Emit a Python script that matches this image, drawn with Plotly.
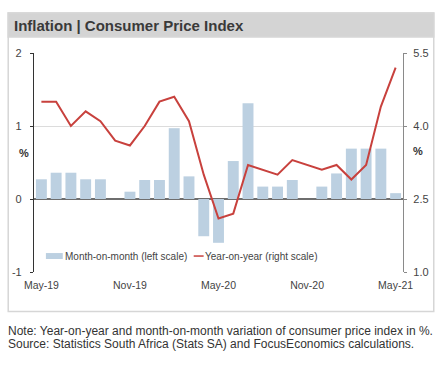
import plotly.graph_objects as go

months = ["May-19","Jun-19","Jul-19","Aug-19","Sep-19","Oct-19","Nov-19","Dec-19",
          "Jan-20","Feb-20","Mar-20","Apr-20","May-20","Jun-20","Jul-20","Aug-20",
          "Sep-20","Oct-20","Nov-20","Dec-20","Jan-21","Feb-21","Mar-21","Apr-21","May-21"]
mom = [0.27,0.36,0.36,0.27,0.27,0.0,0.1,0.26,0.26,0.97,0.31,-0.51,-0.6,0.52,1.31,
       0.17,0.17,0.26,0.0,0.17,0.35,0.69,0.69,0.69,0.08]
yoy = [4.5,4.5,4.0,4.3,4.1,3.7,3.6,4.0,4.5,4.6,4.1,3.0,2.1,2.2,3.2,3.1,3.0,3.3,3.2,
       3.1,3.2,2.9,3.2,4.4,5.2]
tick_months = ["May-19","Nov-19","May-20","Nov-20","May-21"]
left_ticks = [-1,0,1,2]
right_ticks = [1.0,2.5,4.0,5.5]

W, H = 448, 371
L, R, T, B = 31, 403, 52.5, 272
def px(x): return (x - L) / (R - L)
def py(y): return (B - y) / (B - T)

font = "Liberation Sans, Arial, sans-serif"
fig = go.Figure()
fig.add_trace(go.Bar(x=months, y=mom, marker_color="#bcd0e1", marker_line_width=0,
                     name="Month-on-month (left scale)", showlegend=False))
fig.add_trace(go.Scatter(x=months, y=yoy, yaxis="y2", mode="lines",
                         line=dict(color="#c8413d", width=2),
                         name="Year-on-year (right scale)", showlegend=False))

shapes = [
    dict(type="rect", xref="paper", yref="paper", x0=px(5), x1=px(434), y0=py(311.5), y1=py(12.5),
         line=dict(color="#d6d6d6", width=1.5), fillcolor="rgba(0,0,0,0)", layer="below"),
    dict(type="rect", xref="paper", yref="paper", x0=px(5), x1=px(434), y0=py(36.5), y1=py(12.5),
         line=dict(color="#d6d6d6", width=1.5), fillcolor="#d4d4d4", layer="below"),
    # legend swatches
    dict(type="rect", xref="paper", yref="paper", x0=px(43), x1=px(60), y0=py(259), y1=py(253),
         line=dict(width=0), fillcolor="#bcd0e1"),
    dict(type="line", xref="paper", yref="paper", x0=px(192), x1=px(202), y0=py(256), y1=py(256),
         line=dict(color="#c8413d", width=1.5)),
]
annotations = [
    dict(text="<b>Inflation | Consumer Price Index</b>", xref="paper", yref="paper",
         x=px(9), y=py(24.5), xanchor="left", yanchor="middle", showarrow=False,
         font=dict(size=15, color="#3a3a3a", family=font)),
    dict(text="Month-on-month (left scale)", xref="paper", yref="paper", x=px(60), y=py(256),
         xanchor="left", yanchor="middle", showarrow=False, font=dict(size=10, color="#444", family=font)),
    dict(text="Year-on-year (right scale)", xref="paper", yref="paper", x=px(201), y=py(256),
         xanchor="left", yanchor="middle", showarrow=False, font=dict(size=10, color="#444", family=font)),
    dict(text="<b>%</b>", xref="paper", yref="paper", x=px(21), y=py(153),
         xanchor="center", yanchor="middle", showarrow=False, font=dict(size=11, color="#333", family=font)),
    dict(text="<b>%</b>", xref="paper", yref="paper", x=px(418), y=py(151),
         xanchor="center", yanchor="middle", showarrow=False, font=dict(size=11, color="#333", family=font)),
    dict(text="Note: Year-on-year and month-on-month variation of consumer price index in %.",
         xref="paper", yref="paper", x=px(3), y=py(331), xanchor="left", yanchor="middle",
         showarrow=False, font=dict(size=12, color="#333", family=font)),
    dict(text="Source: Statistics South Africa (Stats SA) and FocusEconomics calculations.",
         xref="paper", yref="paper", x=px(3), y=py(344.5), xanchor="left", yanchor="middle",
         showarrow=False, font=dict(size=12, color="#333", family=font)),
]

fig.update_layout(
    width=W, height=H, margin=dict(l=L, r=W - R, t=T, b=H - B),
    paper_bgcolor="white", plot_bgcolor="white",
    font=dict(family=font, size=11, color="#444"),
    bargap=0.26, showlegend=False,
    shapes=shapes, annotations=annotations,
    xaxis=dict(type="category", tickmode="array", tickvals=tick_months, ticktext=tick_months,
               showgrid=False, ticks="", showline=False, tickfont=dict(size=10.5, color="#444"),
               ticklabelstandoff=5, range=[-0.5, len(months) - 0.5]),
    yaxis=dict(range=[-1, 2], tickvals=left_ticks, ticktext=[str(v) for v in left_ticks],
               showgrid=True, gridcolor="#dcdcdc", gridwidth=1,
               zeroline=True, zerolinecolor="#6e6e6e", zerolinewidth=1.5,
               showline=True, linecolor="#333", linewidth=1.2,
               ticks="outside", ticklen=3, tickcolor="#333", ticklabelstandoff=6,
               tickfont=dict(size=11, color="#444")),
    yaxis2=dict(range=[1.0, 5.5], tickvals=right_ticks, ticktext=[f"{v:.1f}" for v in right_ticks],
                overlaying="y", side="right", showgrid=False, zeroline=False,
                showline=True, linecolor="#8a8a8a", linewidth=1.2,
                ticks="outside", ticklen=3, tickcolor="#8a8a8a", ticklabelstandoff=4,
                tickfont=dict(size=11, color="#444")),
)
fig.write_html("out.html", config={"displayModeBar": False},
               post_script="document.body.style.margin='0';document.body.style.overflow='hidden';")
